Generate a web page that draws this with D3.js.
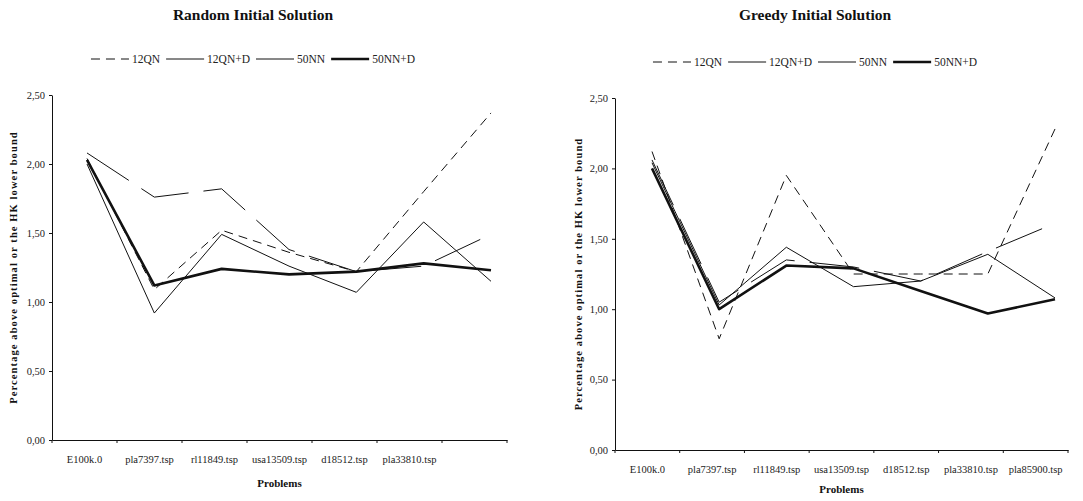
<!DOCTYPE html>
<html>
<head>
<meta charset="utf-8">
<script src="https://cdn.jsdelivr.net/npm/d3@7"></script>
<style>
  body { margin: 0; background: #fff; }
  svg text { font-family: "Liberation Serif", "DejaVu Serif", serif; fill: #222; }
</style>
</head>
<body>
<script>
"use strict";

//problem instances on the x axis
var problems = ["E100k.0", "pla7397.tsp", "rl11849.tsp", "usa13509.tsp", "d18512.tsp", "pla33810.tsp", "pla85900.tsp"];
//the random panel leaves the last category unlabelled
var randomLabels = ["E100k.0", "pla7397.tsp", "rl11849.tsp", "usa13509.tsp", "d18512.tsp", "pla33810.tsp", ""];
var greedyLabels = problems;

var seriesNames = ["12QN", "12QN+D", "50NN", "50NN+D"];
var yTicks = [0, 0.5, 1, 1.5, 2, 2.5];

//Random initial solution
var random12QN  = [2.04, 1.09, 1.52, 1.36, 1.22, 1.80, 2.37];
var random12QND = [2.08, 1.76, 1.82, 1.38, 1.22, 1.26, 1.49];
var random50NN  = [2.00, 0.92, 1.49, 1.26, 1.07, 1.58, 1.15];
var random50NND = [2.03, 1.12, 1.24, 1.20, 1.22, 1.28, 1.23];

//Greedy initial solution
var greedy12QN  = [2.12, 0.79, 1.95, 1.25, 1.25, 1.25, 2.28];
var greedy12QND = [2.06, 1.05, 1.35, 1.30, 1.20, 1.41, 1.61];
var greedy50NN  = [2.04, 1.03, 1.44, 1.16, 1.20, 1.39, 1.08];
var greedy50NND = [2.00, 1.00, 1.31, 1.29, 1.13, 0.97, 1.07];

//line look per series, same order as seriesNames
var lineStyles = [
  {dash: "9,6",   w: 1},
  {dash: "50,15", w: 1},
  {dash: null,    w: 1},
  {dash: null,    w: 2.6}
];

var svg = d3.select("body").append("svg")
  .attr("width", 1083)
  .attr("height", 501);

function fmt(v) {
  return d3.format(".2f")(v).replace(".", ",");
}

function drawPanel(p) {
  var g = svg.append("g");
  var idx = d3.range(problems.length);

  var xBand = d3.scaleBand().domain(idx).range([p.x0, p.x1]);
  var xLine = d3.scalePoint().domain(idx).range([p.lx0, p.lx1]);
  var y = d3.scaleLinear().domain([0, 2.5]).range([p.yBot, p.yTop]);

  //title
  g.append("text")
    .attr("x", p.titleCx).attr("y", 20)
    .attr("text-anchor", "middle")
    .style("font-size", "15.5px").style("font-weight", "bold")
    .style("fill", "#111")
    .text(p.title);

  //legend, laid out left to right then centred
  var leg = g.append("g");
  var lx = 0;
  seriesNames.forEach(function(name, i) {
    var st = lineStyles[i];
    leg.append("line")
      .attr("x1", lx).attr("x2", lx + 38)
      .attr("y1", 0).attr("y2", 0)
      .attr("stroke", "#111").attr("stroke-width", st.w)
      .attr("stroke-dasharray", st.dash);
    lx += 41;
    var t = leg.append("text")
      .attr("x", lx).attr("y", 3.8)
      .style("font-size", "11.5px")
      .text(name);
    lx += t.node().getComputedTextLength() + 6;
  });
  leg.attr("transform", "translate(" + (p.titleCx - (lx - 6) / 2) + "," + p.legendY + ")");

  //y axis
  var yAxis = d3.axisLeft(y).tickValues(yTicks).tickFormat(fmt)
    .tickSize(3).tickSizeOuter(0).tickPadding(4);
  var ya = g.append("g").attr("transform", "translate(" + p.x0 + ",0)").call(yAxis);
  ya.selectAll("text").style("font-size", "10.5px").style("font-family", "Liberation Serif");
  ya.selectAll("path,line").attr("stroke", "#111");

  //x axis: labels at band centres, ticks at band edges
  var xAxis = d3.axisBottom(xBand).tickFormat(function(i) { return p.labels[i]; })
    .tickSize(0).tickSizeOuter(0).tickPadding(16);
  var xa = g.append("g").attr("transform", "translate(0," + p.yBot + ")").call(xAxis);
  xa.selectAll("text").style("font-size", "10.5px").style("font-family", "Liberation Serif");
  xa.select(".domain").attr("stroke", "#111");
  var edges = idx.map(function(i) { return xBand(i); }).concat([xBand.range()[1]]);
  xa.selectAll(".edge").data(edges).enter().append("line")
    .attr("class", "edge")
    .attr("x1", function(d) { return d; }).attr("x2", function(d) { return d; })
    .attr("y1", 0).attr("y2", 3)
    .attr("stroke", "#111");

  //axis titles
  g.append("text")
    .attr("transform", "translate(" + p.ytitleX + "," + ((p.yTop + p.yBot) / 2) + ") rotate(-90)")
    .attr("dy", "0.35em")
    .attr("text-anchor", "middle")
    .style("font-size", "10.5px").style("font-weight", "bold")
    .style("letter-spacing", "1.1px")
    .style("fill", "#111")
    .text("Percentage above optimal or the HK lower bound");

  g.append("text")
    .attr("x", (p.x0 + p.x1) / 2).attr("y", p.probY)
    .attr("text-anchor", "middle")
    .style("font-size", "11px").style("font-weight", "bold")
    .style("fill", "#111")
    .text("Problems");

  //series lines
  var line = d3.line()
    .x(function(d, i) { return xLine(i); })
    .y(function(d) { return y(d); });

  p.series.forEach(function(vals, i) {
    var st = lineStyles[i];
    g.append("path")
      .datum(vals)
      .attr("d", line)
      .attr("fill", "none")
      .attr("stroke", "#111")
      .attr("stroke-width", st.w)
      .attr("stroke-linejoin", "round")
      .attr("stroke-dasharray", st.dash);
  });
}

drawPanel({
  title: "Random Initial Solution",
  labels: randomLabels,
  series: [random12QN, random12QND, random50NN, random50NND],
  x0: 52, x1: 507, yTop: 95, yBot: 440,
  lx0: 87, lx1: 491,
  titleCx: 253, legendY: 59, ytitleX: 13, probY: 487
});

drawPanel({
  title: "Greedy Initial Solution",
  labels: greedyLabels,
  series: [greedy12QN, greedy12QND, greedy50NN, greedy50NND],
  x0: 615, x1: 1068, yTop: 98, yBot: 450,
  lx0: 652, lx1: 1055,
  titleCx: 815, legendY: 62, ytitleX: 578, probY: 493
});
</script>
</body>
</html>
